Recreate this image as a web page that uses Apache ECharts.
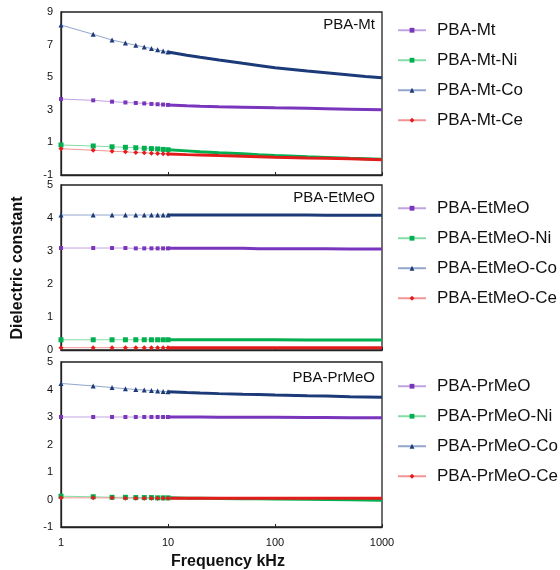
<!DOCTYPE html>
<html><head><meta charset="utf-8">
<script src="https://cdn.jsdelivr.net/npm/echarts@6/dist/echarts.min.js"></script>
<style>html,body{margin:0;padding:0;background:#fff}#c{width:560px;height:570px}</style>
</head><body><div id="c"></div>
<script>
// Frequency (kHz) sample points
const xEarly = [1, 2, 3, 4, 5, 6, 7, 8, 9, 10];
const xLate = [10, 15, 20, 30, 50, 70, 100, 200, 300, 500, 700, 1000];

// Panel 1: PBA-Mt
const mtEarly   = [3.66, 3.58, 3.50, 3.45, 3.42, 3.39, 3.36, 3.34, 3.32, 3.30];
const mtLate    = [3.30, 3.25, 3.22, 3.19, 3.16, 3.14, 3.12, 3.09, 3.07, 3.04, 3.02, 3.00];
const mtNiEarly = [0.84, 0.78, 0.73, 0.70, 0.67, 0.64, 0.62, 0.60, 0.57, 0.55];
const mtNiLate  = [0.55, 0.48, 0.43, 0.37, 0.30, 0.25, 0.20, 0.12, 0.08, 0.03, 0.00, -0.04];
const mtCoEarly = [8.20, 7.63, 7.28, 7.10, 6.96, 6.85, 6.76, 6.68, 6.61, 6.55];
const mtCoLate  = [6.55, 6.35, 6.22, 6.05, 5.85, 5.72, 5.58, 5.38, 5.27, 5.13, 5.04, 4.96];
const mtCeEarly = [0.61, 0.52, 0.46, 0.42, 0.38, 0.36, 0.34, 0.32, 0.30, 0.29];
const mtCeLate  = [0.29, 0.25, 0.23, 0.19, 0.15, 0.12, 0.09, 0.04, 0.02, -0.01, -0.03, -0.06];

// Panel 2: PBA-EtMeO
const etEarly   = [3.09, 3.09, 3.09, 3.09, 3.08, 3.08, 3.08, 3.08, 3.08, 3.08];
const etLate    = [3.08, 3.08, 3.08, 3.08, 3.08, 3.07, 3.07, 3.07, 3.07, 3.06, 3.06, 3.06];
const etNiEarly = [0.31, 0.31, 0.31, 0.31, 0.31, 0.31, 0.31, 0.31, 0.31, 0.31];
const etNiLate  = [0.31, 0.31, 0.31, 0.31, 0.31, 0.31, 0.31, 0.30, 0.30, 0.30, 0.30, 0.30];
const etCoEarly = [4.09, 4.09, 4.09, 4.09, 4.09, 4.09, 4.09, 4.09, 4.09, 4.09];
const etCoLate  = [4.09, 4.09, 4.09, 4.09, 4.09, 4.09, 4.09, 4.09, 4.08, 4.08, 4.08, 4.08];
const etCeEarly = [0.07, 0.07, 0.07, 0.07, 0.07, 0.07, 0.07, 0.07, 0.07, 0.07];
const etCeLate  = [0.07, 0.07, 0.07, 0.07, 0.07, 0.07, 0.07, 0.07, 0.07, 0.07, 0.07, 0.07];

// Panel 3: PBA-PrMeO
const prEarly   = [3.00, 3.00, 3.00, 3.00, 3.00, 3.00, 3.00, 3.00, 3.00, 3.00];
const prLate    = [3.00, 3.00, 3.00, 2.99, 2.99, 2.99, 2.99, 2.98, 2.98, 2.97, 2.97, 2.97];
const prNiEarly = [0.12, 0.10, 0.08, 0.08, 0.07, 0.07, 0.07, 0.06, 0.06, 0.06];
const prNiLate  = [0.06, 0.05, 0.05, 0.04, 0.03, 0.03, 0.02, 0.01, 0.00, -0.01, -0.02, -0.03];
const prCoEarly = [4.22, 4.13, 4.07, 4.03, 4.00, 3.98, 3.96, 3.95, 3.93, 3.92];
const prCoLate  = [3.92, 3.89, 3.87, 3.85, 3.83, 3.82, 3.80, 3.77, 3.76, 3.74, 3.73, 3.72];
const prCeEarly = [0.06, 0.06, 0.06, 0.05, 0.05, 0.05, 0.05, 0.05, 0.05, 0.05];
const prCeLate  = [0.05, 0.05, 0.05, 0.05, 0.05, 0.05, 0.05, 0.05, 0.05, 0.05, 0.05, 0.05];

const legend1 = ['PBA-Mt', 'PBA-Mt-Ni', 'PBA-Mt-Co', 'PBA-Mt-Ce'];
const legend2 = ['PBA-EtMeO', 'PBA-EtMeO-Ni', 'PBA-EtMeO-Co', 'PBA-EtMeO-Ce'];
const legend3 = ['PBA-PrMeO', 'PBA-PrMeO-Ni', 'PBA-PrMeO-Co', 'PBA-PrMeO-Ce'];
const panelLabels = ['PBA-Mt', 'PBA-EtMeO', 'PBA-PrMeO'];

const styles = [
  {c: '#7a35bd', l: '#bfa3e0', s: 'rect', z: 4},
  {c: '#00b050', l: '#86dca6', s: 'rect', z: 5},
  {c: '#1c3a78', l: '#92a6cc', s: 'triangle', z: 5},
  {c: '#e41b1b', l: '#f29494', s: 'diamond', z: 5}
];

const panels = [
  {names: legend1, d: [[mtEarly, mtLate], [mtNiEarly, mtNiLate], [mtCoEarly, mtCoLate], [mtCeEarly, mtCeLate]]},
  {names: legend2, d: [[etEarly, etLate], [etNiEarly, etNiLate], [etCoEarly, etCoLate], [etCeEarly, etCeLate]]},
  {names: legend3, d: [[prEarly, prLate], [prNiEarly, prNiLate], [prCoEarly, prCoLate], [prCeEarly, prCeLate]]}
];

const series = [];
panels.forEach((p, g) => {
  p.d.forEach((pair, k) => {
    const st = styles[k];
    series.push({
      type: 'line', name: p.names[k], xAxisIndex: g, yAxisIndex: g,
      data: xEarly.map((x, i) => [x, pair[0][i]]),
      symbol: st.s, symbolSize: st.z, showSymbol: true,
      itemStyle: {color: st.c}, lineStyle: {color: st.l, width: 1},
      animation: false
    });
  });
  p.d.forEach((pair, k) => {
    const st = styles[k];
    series.push({
      type: 'line', name: p.names[k], xAxisIndex: g, yAxisIndex: g,
      data: xLate.map((x, i) => [x, pair[1][i]]),
      symbol: 'none', itemStyle: {color: st.c}, lineStyle: {color: st.c, width: 3},
      animation: false
    });
  });
});

const grids = [
  {left: 61, top: 12, width: 321, height: 163},
  {left: 61, top: 185, width: 321, height: 165},
  {left: 61, top: 362, width: 321, height: 165}
].map(g => Object.assign(g, {show: true, borderColor: '#222', borderWidth: 1.3, backgroundColor: '#fff'}));

const yRanges = [[-1, 9, 2], [0, 5, 1], [-1, 5, 1]];
const font = 'Liberation Sans, Arial, sans-serif';

const xAxis = [0, 1, 2].map(g => ({
  type: 'log', logBase: 10, min: 1, max: 1000, gridIndex: g,
  axisLine: {show: true, onZero: false, lineStyle: {color: '#222', width: 1.3}},
  axisTick: {show: true, inside: true, length: 3, lineStyle: {color: '#222'}},
  minorTick: {show: false},
  splitLine: {show: false},
  axisLabel: {show: g === 2, fontSize: 11, color: '#111', fontFamily: font, margin: 10,
    formatter: v => String(Math.round(v))}
}));

const yAxis = yRanges.map((r, g) => ({
  type: 'value', gridIndex: g, min: r[0], max: r[1], interval: r[2],
  axisLine: {show: true, onZero: false, lineStyle: {color: '#222', width: 1.3}},
  axisTick: {show: false},
  splitLine: {show: false},
  axisLabel: {fontSize: 11, color: '#111', fontFamily: font, margin: 8}
}));

const legendCenters = [30, 208, 386];
const legend = [legend1, legend2, legend3].map((names, i) => ({
  data: names, orient: 'vertical', left: 392, top: legendCenters[i] - 13.25,
  itemWidth: 28, itemHeight: 6, itemGap: 13,
  textStyle: {fontSize: 17, color: '#111', fontFamily: font, padding: [0, 0, 0, 6]},
  selectedMode: false
}));

const labelYs = [25, 198, 378];
const graphic = panelLabels.map((t, i) => ({
  type: 'text', x: 375, y: labelYs[i],
  style: {text: t, fontSize: 15, fill: '#111', fontFamily: font, textAlign: 'right', textVerticalAlign: 'middle'}
}));
graphic.push({
  type: 'text', x: 18, y: 268, rotation: Math.PI / 2,
  style: {text: 'Dielectric constant', fontSize: 16, fontWeight: 'bold', fill: '#111', fontFamily: font, textAlign: 'center', textVerticalAlign: 'middle'}
});
graphic.push({
  type: 'text', x: 228, y: 562,
  style: {text: 'Frequency kHz', fontSize: 16, fontWeight: 'bold', fill: '#111', fontFamily: font, textAlign: 'center', textVerticalAlign: 'middle'}
});

const chart = echarts.init(document.getElementById('c'), null, {renderer: 'canvas'});
chart.setOption({
  backgroundColor: '#fff',
  animation: false,
  grid: grids, xAxis, yAxis, legend, series, graphic
});
</script></body></html>
